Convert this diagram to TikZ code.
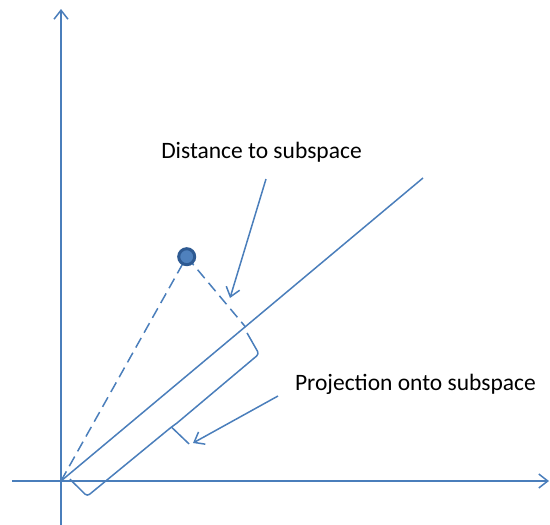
\documentclass[tikz,border=0pt]{standalone}
\usepackage{fontspec}
\setmainfont{Carlito}
\usetikzlibrary{arrows.meta,calc}
\definecolor{lncol}{HTML}{4A7EBB}
\definecolor{ptfill}{HTML}{4F81BD}
\definecolor{ptdraw}{HTML}{2E5A92}
\begin{document}
\begin{tikzpicture}[x=1pt,y=-1pt,
  ln/.style={draw=lncol, line width=1.5pt},
  arr/.style={ln, -{Straight Barb[length=9pt,width=14pt]}},
  dsh/.style={ln, dash pattern=on 11pt off 6pt},
  lbl/.style={font=\fontsize{23.5}{28}\selectfont, inner sep=0pt, anchor=base}]
\useasboundingbox (0,0) rectangle (550,525);
% axes
\coordinate (O) at (61,481);
\coordinate (E) at (423,178);
\coordinate (yb) at (61,525);
\coordinate (yt) at (61,9);
\coordinate (xl) at (12,481);
\coordinate (xr) at (549,481);
\draw[arr] (yb) -- (yt);
\draw[arr] (xl) -- (xr);
% subspace
\draw[ln] (O) -- (E);
% point and its projection
\coordinate (Pc) at (186.7,256.7);
\coordinate (F) at ($(O)!(Pc)!(E)$);
\draw[dsh] (O) -- (Pc);
\draw[dsh] (Pc) -- (F);
\node[circle, fill=ptfill, draw=ptdraw, line width=3pt, minimum size=16pt, inner sep=0pt] (P) at (Pc) {};
% brace
\begin{scope}[shift={(O)}, rotate=39.93]
  \draw[ln, rounded corners=3pt] (8,4.3) -- (10.3,28.5) -- (119.3,29.5) [sharp corners] -- (126,30) [rounded corners=3pt] -- (233.4,29.7) -- (237.7,5.9);
  \coordinate (bk) at (119.3,29.5);
  \coordinate (bt) at (122,53.8);
  \draw[ln] (bk) -- (bt);
\end{scope}
% labels
\node[lbl] (dlab) at (261.5,158) {Distance to subspace};
\node[lbl] (plab) at (415.5,390) {Projection onto subspace};
\coordinate (dA) at (266,179);
\coordinate (dB) at (230,298);
\draw[arr] (dA) -- (dB);
\coordinate (pA) at (278,396);
\coordinate (pB) at (193,443);
\draw[arr] (pA) -- (pB);
\end{tikzpicture}
\end{document}
